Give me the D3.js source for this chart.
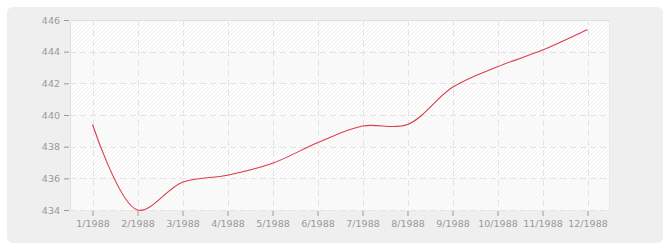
<!DOCTYPE html>
<html>
<head>
<meta charset="utf-8">
<script src="https://cdn.jsdelivr.net/npm/d3@7"></script>
<style>
  body { margin: 0; background: #fff; }
  text { font-family: "DejaVu Sans", Verdana, sans-serif; font-size: 9.5px; fill: #999; }
</style>
</head>
<body>
<script>
var months = ['1/1988', '2/1988', '3/1988', '4/1988', '5/1988', '6/1988',
              '7/1988', '8/1988', '9/1988', '10/1988', '11/1988', '12/1988'];
var values = [439.4, 434.0, 435.75, 436.2, 436.95, 438.25,
              439.3, 439.4, 441.75, 443.05, 444.1, 445.4];
var yTicks = [434, 436, 438, 440, 442, 444, 446];

var width = 670, height = 250;
var margin = {top: 20, right: 60, bottom: 40, left: 70};
var plotW = width - margin.left - margin.right,
    plotH = height - margin.top - margin.bottom;

var svg = d3.select('body').append('svg')
    .attr('width', width)
    .attr('height', height);

// hatch patterns
var defs = svg.append('defs');
function hatch(id, bg, line) {
  var p = defs.append('pattern')
      .attr('id', id)
      .attr('patternUnits', 'userSpaceOnUse')
      .attr('width', 4).attr('height', 4);
  p.append('rect').attr('width', 4).attr('height', 4).attr('fill', bg);
  p.append('path')
      .attr('d', 'M-1,1 l2,-2 M0,4 l4,-4 M3,5 l2,-2')
      .attr('stroke', line).attr('stroke-width', 1);
}
hatch('hatchA', '#ffffff', '#eeeeee');
hatch('hatchB', '#fbfbfb', '#f4f4f4');

// outer box
svg.append('rect')
    .attr('x', 7).attr('y', 7)
    .attr('width', 656).attr('height', 236)
    .attr('rx', 6).attr('ry', 6)
    .attr('fill', '#efefef');

var g = svg.append('g')
    .attr('transform', 'translate(' + margin.left + ',' + margin.top + ')');

var x = d3.scalePoint()
    .domain(months)
    .range([0, plotW])
    .padding(0.5);

var y = d3.scaleLinear()
    .domain([434, 446])
    .range([plotH, 0]);

// alternating bands
var bands = d3.pairs(yTicks);
g.selectAll('rect.band')
    .data(bands)
    .enter().append('rect')
    .attr('class', 'band')
    .attr('x', 0)
    .attr('width', plotW)
    .attr('y', function(d) { return y(d[1]); })
    .attr('height', function(d) { return y(d[0]) - y(d[1]); })
    .attr('fill', function(d, i) { return i % 2 === 0 ? 'url(#hatchB)' : 'url(#hatchA)'; });

// frame
g.append('path')
    .attr('d', 'M0.5,' + plotH + 'V0.5H' + plotW)
    .attr('fill', 'none')
    .attr('stroke', '#e0e0e0');
g.append('path')
    .attr('d', 'M' + (plotW - 0.5) + ',0V' + plotH)
    .attr('fill', 'none')
    .attr('stroke', '#e8e8e8');

// grid lines
g.selectAll('line.hgrid')
    .data(yTicks.slice(0, -1))
    .enter().append('line')
    .attr('class', 'hgrid')
    .attr('x1', 0).attr('x2', plotW)
    .attr('y1', function(d) { return Math.round(y(d)) + 0.5; })
    .attr('y2', function(d) { return Math.round(y(d)) + 0.5; })
    .attr('stroke', '#e3e3e3')
    .attr('stroke-dasharray', '6,4');

g.selectAll('line.vgrid')
    .data(months)
    .enter().append('line')
    .attr('class', 'vgrid')
    .attr('y1', 0).attr('y2', plotH)
    .attr('x1', function(d) { return Math.round(x(d)) + 0.5; })
    .attr('x2', function(d) { return Math.round(x(d)) + 0.5; })
    .attr('stroke', '#e3e3e3')
    .attr('stroke-dasharray', '6,4');

// axes
var yAxis = g.append('g')
    .attr('transform', 'translate(-1,0)')
    .call(d3.axisLeft(y).tickValues(yTicks).tickSize(5).tickPadding(4));
yAxis.select('.domain').remove();
yAxis.selectAll('line').attr('stroke', '#999');

var xAxis = g.append('g')
    .attr('transform', 'translate(0,' + (plotH + 1) + ')')
    .call(d3.axisBottom(x).tickSize(5).tickPadding(4));
xAxis.select('.domain').remove();
xAxis.selectAll('line').attr('stroke', '#999');

svg.selectAll('.tick text')
    .attr('fill', '#929292')
    .style('font-family', '"DejaVu Sans", Verdana, sans-serif')
    .style('font-size', '9.5px');

// line
var line = d3.line()
    .x(function(d, i) { return x(months[i]); })
    .y(function(d) { return y(d); })
    .curve(d3.curveCatmullRom.alpha(0.5));

g.append('path')
    .datum(values)
    .attr('fill', 'none')
    .attr('stroke', '#dc3c4b')
    .attr('stroke-width', 1.1)
    .attr('d', line);
</script>
</body>
</html>
